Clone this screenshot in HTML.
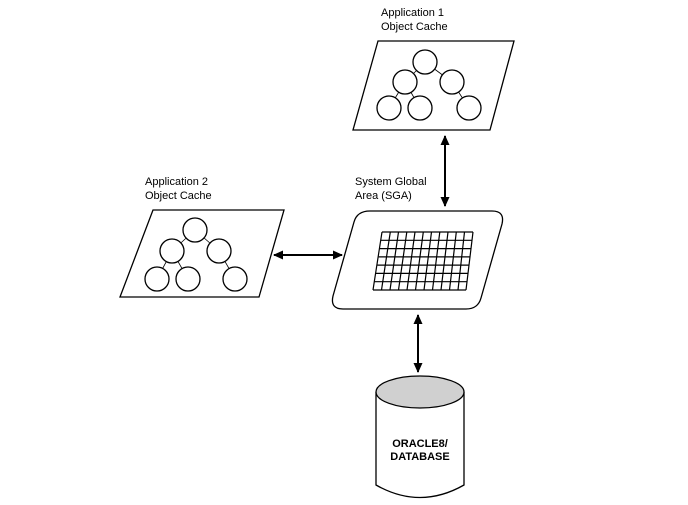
<!DOCTYPE html>
<html><head><style>body{margin:0;background:#fff}svg{display:block}</style></head><body>
<svg width="688" height="505" xmlns="http://www.w3.org/2000/svg" font-family="Liberation Sans, sans-serif">
<defs>
<marker id="a" markerWidth="10" markerHeight="10" refX="9" refY="5" orient="auto-start-reverse" markerUnits="userSpaceOnUse"><path d="M0,0.5 L10,5 L0,9.5 z" fill="#000"/></marker>
</defs>
<g font-size="11" fill="#000">
<text x="381" y="16">Application 1</text><text x="381" y="30">Object Cache</text>
<text x="145" y="185">Application 2</text><text x="145" y="199">Object Cache</text>
<text x="355" y="185">System Global</text><text x="355" y="199">Area (SGA)</text>
</g>
<g stroke="#000" fill="#fff" stroke-width="1.3">
<polygon points="378,41 514,41 490,130 353,130"/>
<g stroke-width="0.8"><line x1="425" y1="62" x2="405" y2="82"/><line x1="425" y1="62" x2="452" y2="82"/><line x1="405" y1="82" x2="389" y2="108"/><line x1="405" y1="82" x2="420" y2="108"/><line x1="452" y1="82" x2="469" y2="108"/></g>
<circle cx="425" cy="62" r="12"/><circle cx="405" cy="82" r="12"/><circle cx="452" cy="82" r="12"/><circle cx="389" cy="108" r="12"/><circle cx="420" cy="108" r="12"/><circle cx="469" cy="108" r="12"/>
<polygon points="153,210 284,210 259,297 120,297"/>
<g stroke-width="0.8"><line x1="195" y1="230" x2="172" y2="251"/><line x1="195" y1="230" x2="219" y2="251"/><line x1="172" y1="251" x2="157" y2="279"/><line x1="172" y1="251" x2="188" y2="279"/><line x1="219" y1="251" x2="235" y2="279"/></g>
<circle cx="195" cy="230" r="12"/><circle cx="172" cy="251" r="12"/><circle cx="219" cy="251" r="12"/><circle cx="157" cy="279" r="12"/><circle cx="188" cy="279" r="12"/><circle cx="235" cy="279" r="12"/>
<path d="M370,211 L492,211 Q505,211 502,224 L481,298 Q478,309 466,309 L343,309 Q330,309 333,296 L354,222 Q357,211 370,211 Z"/>
<path d="M376,392 L376,485 Q420,510 464,485 L464,392"/>
<ellipse cx="420" cy="392" rx="44" ry="16" fill="#d0d0d0"/>
</g>
<g stroke="#000" stroke-width="1.2" fill="none">
<path d="M382,232H473M381,240.3H472M380,248.6H471M378.6,256.9H469.8M377.3,265.1H468.8M376,273.4H467.8M374.6,281.7H466.9M373,290H466"/>
<path d="M382,232L373,290M390.3,232L381.5,290M398.5,232L390,290M406.8,232L398.5,290M415,232L407,290M423.3,232L415.5,290M431.5,232L424,290M439.8,232L432.5,290M448,232L441,290M456.3,232L449.5,290M464.5,232L458,290M473,232L466,290"/>
</g>
<g stroke="#000" stroke-width="2">
<line x1="445" y1="136" x2="445" y2="206" marker-start="url(#a)" marker-end="url(#a)"/>
<line x1="274" y1="255" x2="342" y2="255" marker-start="url(#a)" marker-end="url(#a)"/>
<line x1="418" y1="315" x2="418" y2="372" marker-start="url(#a)" marker-end="url(#a)"/>
</g>
<g font-size="11" font-weight="bold" text-anchor="middle"><text x="420" y="447">ORACLE8/</text><text x="420" y="460">DATABASE</text></g>
</svg>
</body></html>
